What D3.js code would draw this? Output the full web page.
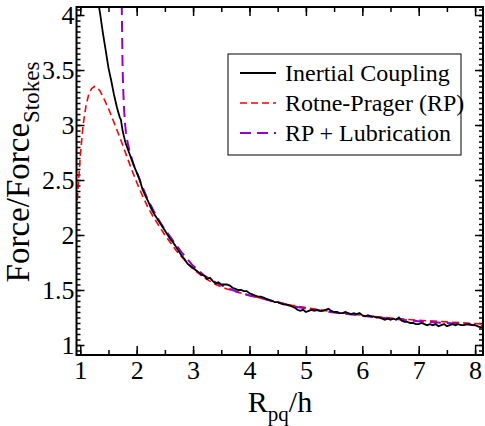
<!DOCTYPE html>
<html>
  <head>
    <script type="text/javascript" src="https://cdn.jsdelivr.net/npm/d3@7/dist/d3.min.js"></script>
    <style>
      body { margin: 0; background: #fff; }
    </style>
  </head>
  <body>
    <script type="text/javascript">
    // inertial coupling (simulation, noisy)
    var icX = [1.33, 1.35, 1.40, 1.45, 1.50, 1.55, 1.60, 1.65, 1.70, 1.72, 1.75, 1.80, 1.85, 1.90, 1.95,
               2.00, 2.05, 2.10, 2.15, 2.20, 2.25, 2.30, 2.35, 2.40, 2.45, 2.50, 2.55, 2.60, 2.65, 2.70,
               2.75, 2.80, 2.85, 2.90, 2.95, 3.00, 3.05, 3.10, 3.15, 3.20, 3.25, 3.30, 3.35, 3.40, 3.45,
               3.50, 3.55, 3.60, 3.65, 3.70, 3.75, 3.80, 3.85, 3.90, 3.95, 4.00, 4.05, 4.10, 4.15, 4.20,
               4.25, 4.30, 4.35, 4.40, 4.45, 4.50, 4.55, 4.60, 4.65, 4.70, 4.75, 4.80, 4.85, 4.90, 4.95,
               5.00, 5.05, 5.10, 5.15, 5.20, 5.25, 5.30, 5.35, 5.40, 5.45, 5.50, 5.55, 5.60, 5.65, 5.70,
               5.75, 5.80, 5.85, 5.90, 5.95, 6.00, 6.05, 6.10, 6.15, 6.20, 6.25, 6.30, 6.35, 6.40, 6.45,
               6.50, 6.55, 6.60, 6.65, 6.70, 6.75, 6.80, 6.85, 6.90, 6.95, 7.00, 7.05, 7.10, 7.15, 7.20,
               7.25, 7.30, 7.35, 7.40, 7.45, 7.50, 7.55, 7.60, 7.65, 7.70, 7.75, 7.80, 7.85, 7.90, 7.95,
               8.00, 8.05, 8.10, 8.15];
    var icY = [4.08, 4.02, 3.84, 3.68, 3.52, 3.40, 3.27, 3.16, 3.07, 3.05, 2.95, 2.84, 2.77, 2.70, 2.63,
               2.57, 2.51, 2.42, 2.36, 2.31, 2.25, 2.20, 2.16, 2.12, 2.08, 2.04, 2.00, 1.96, 1.93, 1.89,
               1.85, 1.81, 1.78, 1.74, 1.72, 1.70, 1.68, 1.66, 1.64, 1.63, 1.60, 1.61, 1.58, 1.56, 1.57,
               1.55, 1.55, 1.55, 1.54, 1.52, 1.51, 1.50, 1.50, 1.49, 1.49, 1.47, 1.46, 1.45, 1.44, 1.44,
               1.43, 1.42, 1.41, 1.40, 1.39, 1.39, 1.38, 1.37, 1.37, 1.36, 1.35, 1.34, 1.32, 1.31, 1.32,
               1.30, 1.31, 1.32, 1.31, 1.32, 1.31, 1.31, 1.32, 1.33, 1.31, 1.30, 1.30, 1.29, 1.29, 1.30,
               1.29, 1.28, 1.29, 1.28, 1.29, 1.27, 1.26, 1.27, 1.26, 1.26, 1.25, 1.25, 1.24, 1.23, 1.24,
               1.23, 1.24, 1.23, 1.25, 1.22, 1.21, 1.21, 1.20, 1.20, 1.19, 1.19, 1.20, 1.19, 1.18, 1.19,
               1.18, 1.19, 1.17, 1.18, 1.19, 1.17, 1.18, 1.19, 1.18, 1.19, 1.18, 1.18, 1.19, 1.19, 1.18,
               1.18, 1.17, 1.16, 1.16];

    // Rotne-Prager
    var rpX = [0.935, 0.96, 1.00, 1.05, 1.10, 1.15, 1.20, 1.25, 1.30, 1.35, 1.40, 1.50, 1.60, 1.70, 1.80,
               1.90, 2.00, 2.10, 2.20, 2.30, 2.40, 2.50, 2.60, 2.70, 2.80, 2.90, 3.00, 3.20, 3.40, 3.60,
               3.80, 4.00, 4.25, 4.50, 4.75, 5.00, 5.50, 6.00, 6.50, 7.00, 7.50, 8.00, 8.15];
    var rpY = [2.22, 2.42, 2.72, 3.00, 3.17, 3.28, 3.33, 3.35, 3.34, 3.31, 3.26, 3.15, 3.02, 2.89, 2.75,
               2.61, 2.48, 2.36, 2.25, 2.16, 2.08, 2.00, 1.93, 1.86, 1.80, 1.74, 1.69, 1.61, 1.55, 1.51,
               1.48, 1.45, 1.42, 1.39, 1.36, 1.34, 1.30, 1.27, 1.245, 1.225, 1.21, 1.195, 1.19];

    // RP + lubrication
    var lubX = [1.735, 1.74, 1.745, 1.75, 1.76, 1.775, 1.79, 1.81, 1.84, 1.88, 1.94, 2.00, 2.10, 2.20, 2.30,
                2.40, 2.50, 2.60, 2.70, 2.80, 2.90, 3.00, 3.20, 3.40, 3.60, 3.80, 4.00, 4.25, 4.50, 4.75,
                5.00, 5.50, 6.00, 6.50, 7.00, 7.50, 8.00, 8.15];
    var lubY = [4.10, 3.90, 3.70, 3.52, 3.34, 3.16, 3.03, 2.93, 2.84, 2.75, 2.65, 2.57, 2.44, 2.32, 2.22,
                2.13, 2.05, 1.98, 1.91, 1.84, 1.78, 1.72, 1.63, 1.57, 1.52, 1.48, 1.45, 1.42, 1.385, 1.355,
                1.33, 1.295, 1.265, 1.24, 1.215, 1.20, 1.18, 1.175];

    var xMajor = [1, 2, 3, 4, 5, 6, 7, 8];
    var yMajor = [1, 1.5, 2, 2.5, 3, 3.5, 4];
    var seriesNames = ["Inertial Coupling", "Rotne-Prager (RP)", "RP + Lubrication"];

    var FONT = '"Liberation Serif", "Times New Roman", Times, serif';
    var W = 485, H = 426;
    var x = d3.scaleLinear().domain([0.933, 8.14]).range([76.5, 483]);
    var y = d3.scaleLinear().domain([0.909, 4.073]).range([355, 7]);

    var xMinor = d3.range(0.5, 8.6, 0.5).filter(function(v) { return v > 0.933 && v < 8.14; });
    var yMinor = d3.range(0.9, 4.1, 0.05).filter(function(v) { return v > 0.909 && v < 4.073; });

    var svg = d3.select('body').append('svg')
                .attr('width', W)
                .attr('height', H)
                .style('font-family', FONT);

    svg.append('clipPath').attr('id', 'clip')
       .append('rect')
       .attr('x', 76.5).attr('y', 7)
       .attr('width', 485 - 76.5).attr('height', 355 - 7);

    function tickAxis(axis, scale, vals, size, pad) {
        var a = axis(scale).tickValues(vals).tickSizeInner(size).tickSizeOuter(0);
        if (pad == null) a.tickFormat('');
        else a.tickFormat(d3.format('')).tickPadding(pad);
        return a;
    }

    function styleAxis(g) {
        g.attr('font-family', null).attr('font-size', null);
        g.select('.domain').remove();
        g.selectAll('line').attr('stroke', '#000').attr('stroke-width', 1.5);
        g.selectAll('text').attr('fill', '#000')
         .style('font-family', FONT).style('font-size', '26px');
    }

    // bottom / top
    svg.append('g').attr('transform', 'translate(0,355)')
       .call(tickAxis(d3.axisBottom, x, xMinor, -5)).call(styleAxis);
    svg.append('g').attr('transform', 'translate(0,355)')
       .call(tickAxis(d3.axisBottom, x, xMajor, -9, 6)).call(styleAxis);
    svg.append('g').attr('transform', 'translate(0,7)')
       .call(tickAxis(d3.axisTop, x, xMinor, -5)).call(styleAxis);
    svg.append('g').attr('transform', 'translate(0,7)')
       .call(tickAxis(d3.axisTop, x, xMajor, -9)).call(styleAxis);

    // left / right
    svg.append('g').attr('transform', 'translate(76.5,0)')
       .call(tickAxis(d3.axisLeft, y, yMinor, -4)).call(styleAxis);
    svg.append('g').attr('transform', 'translate(76.5,0)')
       .call(tickAxis(d3.axisLeft, y, yMajor, -8, 2)).call(styleAxis);
    svg.append('g').attr('transform', 'translate(483,0)')
       .call(tickAxis(d3.axisRight, y, yMinor, -4)).call(styleAxis);
    svg.append('g').attr('transform', 'translate(483,0)')
       .call(tickAxis(d3.axisRight, y, yMajor, -8)).call(styleAxis);

    // curves
    var line = d3.line()
                 .x(function(d) { return x(d[0]); })
                 .y(function(d) { return y(d[1]); });

    var plot = svg.append('g').attr('clip-path', 'url(#clip)');

    plot.append('path')
        .datum(d3.zip(rpX, rpY))
        .attr('d', line)
        .attr('fill', 'none')
        .attr('stroke', '#ff0000')
        .attr('stroke-width', 1.6)
        .attr('stroke-dasharray', '7,4');

    plot.append('path')
        .datum(d3.zip(lubX, lubY))
        .attr('d', line)
        .attr('fill', 'none')
        .attr('stroke', '#9400d3')
        .attr('stroke-width', 2)
        .attr('stroke-dasharray', '11,6');

    plot.append('path')
        .datum(d3.zip(icX, icY))
        .attr('d', line)
        .attr('fill', 'none')
        .attr('stroke', '#000')
        .attr('stroke-width', 1.8);

    // frame
    svg.append('rect')
       .attr('x', 76.5).attr('y', 7)
       .attr('width', 483 - 76.5).attr('height', 355 - 7)
       .attr('fill', 'none')
       .attr('stroke', '#000')
       .attr('stroke-width', 2);

    // axis titles
    var xt = svg.append('text')
                .attr('x', 280).attr('y', 412)
                .attr('text-anchor', 'middle')
                .style('font-size', '30px');
    xt.append('tspan').text('R');
    xt.append('tspan').attr('dy', 9).style('font-size', '21px').text('pq');
    xt.append('tspan').attr('dy', -9).text('/h');

    var yt = svg.append('text')
                .attr('transform', 'translate(29,172) rotate(-90)')
                .attr('text-anchor', 'middle')
                .style('font-size', '33px');
    yt.append('tspan').text('Force/Force');
    yt.append('tspan').attr('dy', 10).style('font-size', '23px').text('Stokes');

    // legend
    var lg = svg.append('g');
    lg.append('rect')
      .attr('x', 228).attr('y', 54)
      .attr('width', 233).attr('height', 101)
      .attr('fill', '#fff')
      .attr('stroke', '#000')
      .attr('stroke-width', 1);

    var legStroke = ['#000', '#ff0000', '#9400d3'];
    var legDash = [null, '7,4', '11,6'];
    var legW = [1.8, 1.6, 2];
    var rows = lg.selectAll('g.row').data(seriesNames).enter().append('g')
                 .attr('transform', function(d, i) { return 'translate(0,' + (73 + i * 30) + ')'; });
    rows.append('line')
        .attr('x1', 240).attr('x2', 276)
        .attr('stroke', function(d, i) { return legStroke[i]; })
        .attr('stroke-width', function(d, i) { return legW[i]; })
        .attr('stroke-dasharray', function(d, i) { return legDash[i]; });
    rows.append('text')
        .attr('x', 285).attr('y', 8)
        .style('font-size', '24px')
        .text(function(d) { return d; });
    </script>
  </body>
</html>
